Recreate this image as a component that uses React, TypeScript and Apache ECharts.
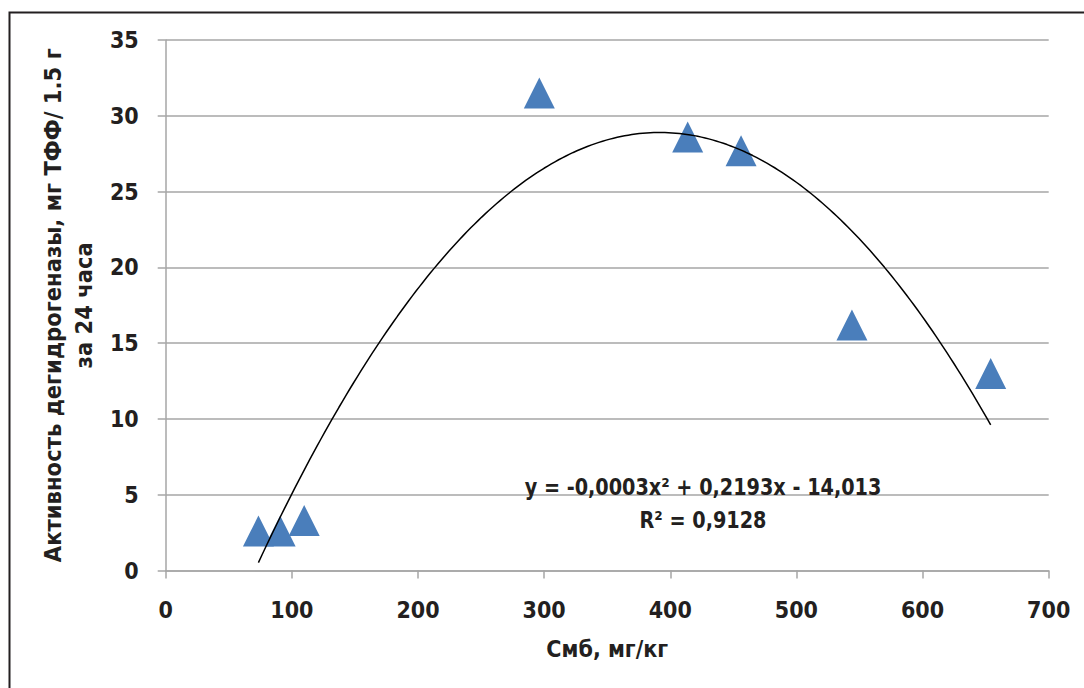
import React, { useEffect, useRef } from "react";
import * as echarts from "echarts";

const xValues = [73.5, 90.7, 109.8, 296.2, 413.8, 456.1, 544, 654];
const yValues = [2.6, 2.6, 3.3, 31.5, 28.6, 27.7, 16.2, 13.0];
const xTicks = [0, 100, 200, 300, 400, 500, 600, 700];
const yTicks = [0, 5, 10, 15, 20, 25, 30, 35];
const equationText = "y = -0,0003x² + 0,2193x - 14,013";
const r2Text = "R² = 0,9128";
const xName = "Смб, мг/кг";
const yName = "Активность дегидрогеназы, мг ТФФ/ 1.5 г\nза 24 часа";

const FONT = "'Liberation Sans Narrow', 'Arial Narrow', 'DejaVu Sans Condensed', sans-serif";

// least-squares quadratic fit (as the spreadsheet trendline)
function fitQuadratic(xs: number[], ys: number[]) {
  let s0 = 0, s1 = 0, s2 = 0, s3 = 0, s4 = 0, t0 = 0, t1 = 0, t2 = 0;
  for (let i = 0; i < xs.length; i++) {
    const x = xs[i], y = ys[i];
    s0 += 1; s1 += x; s2 += x * x; s3 += x * x * x; s4 += x * x * x * x;
    t0 += y; t1 += x * y; t2 += x * x * y;
  }
  const M = [
    [s4, s3, s2, t2],
    [s3, s2, s1, t1],
    [s2, s1, s0, t0],
  ];
  for (let c = 0; c < 3; c++) {
    let p = c;
    for (let r = c + 1; r < 3; r++) if (Math.abs(M[r][c]) > Math.abs(M[p][c])) p = r;
    [M[c], M[p]] = [M[p], M[c]];
    for (let r = 0; r < 3; r++) {
      if (r === c) continue;
      const f = M[r][c] / M[c][c];
      for (let k = c; k < 4; k++) M[r][k] -= f * M[c][k];
    }
  }
  return [M[0][3] / M[0][0], M[1][3] / M[1][1], M[2][3] / M[2][2]];
}

export default function App() {
  const ref = useRef<HTMLDivElement>(null);
  useEffect(() => {
    if (!ref.current) return;
    const chart = echarts.init(ref.current, undefined, { renderer: "svg" });
    const [a, b, c] = fitQuadratic(xValues, yValues);
    const xmin = Math.min(...xValues), xmax = Math.max(...xValues);
    const trend: number[][] = [];
    const n = 200;
    for (let i = 0; i <= n; i++) {
      const x = xmin + ((xmax - xmin) * i) / n;
      trend.push([x, a * x * x + b * x + c]);
    }
    const gray = "#a6a6a6";
    const ink = "#231f20";
    const labelStyle = { color: ink, fontFamily: FONT, fontWeight: "bold" as const, fontSize: 23 };
    chart.setOption({
      animation: false,
      backgroundColor: "#ffffff",
      grid: { left: 165.7, right: 35.3, top: 40, bottom: 117.5, containLabel: false },
      xAxis: {
        type: "value",
        min: xTicks[0],
        max: xTicks[xTicks.length - 1],
        interval: 100,
        name: xName,
        nameLocation: "middle",
        nameGap: 67,
        nameTextStyle: { ...labelStyle, fontSize: 23 },
        axisLine: { show: true, lineStyle: { color: gray, width: 1.5 } },
        axisTick: { show: true, inside: false, length: 8, lineStyle: { color: gray, width: 1.5 } },
        axisLabel: { ...labelStyle, margin: 28 },
        splitLine: { show: false },
      },
      yAxis: {
        type: "value",
        min: yTicks[0],
        max: yTicks[yTicks.length - 1],
        interval: 5,
        name: yName,
        nameLocation: "middle",
        nameGap: 57,
        nameRotate: 90,
        nameTextStyle: { ...labelStyle, fontSize: 23.5, lineHeight: 31, align: "center" },
        axisLine: { show: true, lineStyle: { color: gray, width: 1.5 } },
        axisTick: { show: true, inside: false, length: 8, lineStyle: { color: gray, width: 1.5 } },
        axisLabel: { ...labelStyle, margin: 27 },
        splitLine: { show: true, lineStyle: { color: gray, width: 1.5 } },
      },
      graphic: [
        {
          type: "rect",
          left: 7,
          top: 10,
          shape: { x: 0, y: 0, width: 1120, height: 720 },
          style: { fill: "none", stroke: ink, lineWidth: 2 },
          z: 100,
        },
        {
          type: "text",
          x: 703,
          y: 487,
          scaleX: 0.91,
          style: {
            text: equationText,
            fill: ink,
            font: `bold 23.5px ${FONT}`,
            textAlign: "center",
            textVerticalAlign: "middle",
          },
          z: 50,
        },
        {
          type: "text",
          x: 703,
          y: 520,
          scaleX: 0.91,
          style: {
            text: r2Text,
            fill: ink,
            font: `bold 23.5px ${FONT}`,
            textAlign: "center",
            textVerticalAlign: "middle",
          },
          z: 50,
        },
      ],
      series: [
        {
          type: "line",
          data: trend,
          showSymbol: false,
          symbol: "none",
          lineStyle: { color: "#000000", width: 1.5 },
          z: 3,
        },
        {
          type: "scatter",
          data: xValues.map((x, i) => [x, yValues[i]]),
          symbol: "triangle",
          symbolSize: [31, 31],
          itemStyle: { color: "#4a7ebb", opacity: 1 },
          z: 2,
        },
      ],
    });
    return () => chart.dispose();
  }, []);
  return (
    <div
      ref={ref}
      style={{ position: "fixed", left: 0, top: 0, width: 1084, height: 688, background: "#fff" }}
    />
  );
}
